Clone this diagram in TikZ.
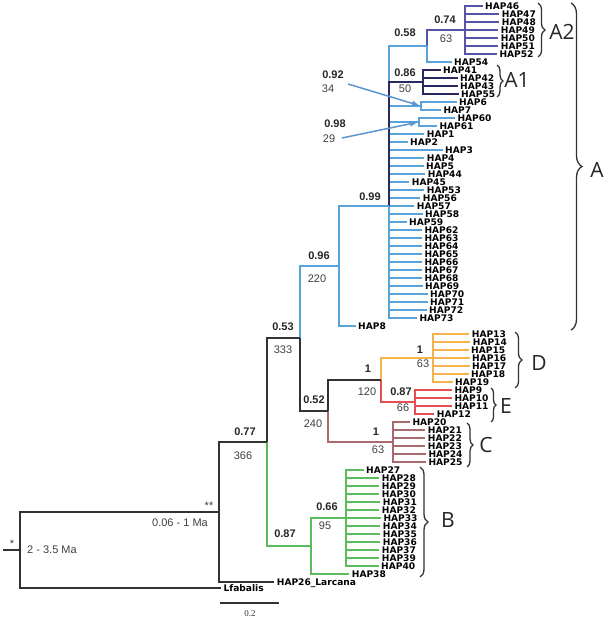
\documentclass[tikz,border=0pt]{standalone}
\usepackage{fontspec}
\setmainfont{Liberation Sans}
\newfontfamily\hapfont{DejaVu Sans}
\newfontfamily\cladefont{Open Sans}
\newfontfamily\barfont{Liberation Serif}
\usetikzlibrary{arrows.meta,decorations.pathreplacing}

\definecolor{cK}{RGB}{50,50,50}
\definecolor{cA}{RGB}{88,164,218}
\definecolor{cAtwo}{RGB}{84,84,168}
\definecolor{cAone}{RGB}{42,42,98}
\definecolor{cD}{RGB}{245,180,75}
\definecolor{cE}{RGB}{228,78,84}
\definecolor{cC}{RGB}{170,106,110}
\definecolor{cB}{RGB}{92,188,92}
\definecolor{cArr}{RGB}{92,150,208}

\tikzset{
  br/.style={line width=2.8pt},
  tip/.style={anchor=west, inner xsep=2.5pt, inner ysep=0pt, xshift=-2.5pt,
    font=\hapfont\bfseries\fontsize{9.1}{9}\selectfont, text height=6.6pt, text depth=0pt},
  pp/.style={font=\bfseries\fontsize{11}{12}\selectfont, text=black!85, inner sep=0pt},
  bs/.style={font=\fontsize{11}{12}\selectfont, text=black!75, inner sep=0pt},
  clade/.style={font=\cladefont\fontsize{21}{21}\selectfont, text=black!85, inner sep=0pt},
  brc/.style={decorate, decoration={brace, amplitude=#1}, line width=1.3pt, draw=black!80},
  arr/.style={->, line width=1.5pt, draw=cArr, shorten >=1pt},
}

\begin{document}
\begin{tikzpicture}[x=1pt,y=-1pt,>={Latex[length=8pt,width=6pt]}]
\useasboundingbox (0,0) rectangle (612,620);

% internal nodes of the tree
\coordinate (stem) at (3,550);
\coordinate (nR) at (20,550);
\coordinate (n2) at (219,512);
\coordinate (n77) at (267,442);
\coordinate (n53) at (300,338);
\coordinate (n96) at (339,266);
\coordinate (n99) at (389,206);
\coordinate (n58) at (427,46);
\coordinate (n74) at (465,30);
\coordinate (n86) at (423,82);
\coordinate (n92) at (421,106);
\coordinate (n98) at (419,122);
\coordinate (n52) at (328,411);
\coordinate (nDE) at (381,380);
\coordinate (nD) at (433,358);
\coordinate (nE) at (415,402);
\coordinate (nC) at (393,442);
\coordinate (n87) at (311,546);
\coordinate (n66) at (346,518);

% clade A
\foreach \n/\x/\y in {1/426.7/134, 2/410/142, 3/445/150, 4/426.7/158, 5/426/166,
    44/427.7/174, 45/411.7/182, 53/426.7/190, 56/422.7/198, 57/416.7/206,
    58/425/214, 59/409/222, 62/424.3/230, 63/424.3/238, 64/424.3/246,
    65/424.3/254, 66/424.3/262, 67/424.3/270, 68/424.3/278, 69/425/286,
    70/430/294, 71/430/302, 72/429/310, 73/419.3/318} {
  \node[tip] (h\n) at (\x,\y) {HAP\n};
  \draw[br,cA] (n99) |- (h\n.west);
}
\foreach \n/\x/\y in {6/459/102, 7/443.3/110} {
  \node[tip] (h\n) at (\x,\y) {HAP\n};
  \draw[br,cA] (n92) |- (h\n.west);
}
\foreach \n/\x/\y in {60/457.3/118, 61/439.3/126} {
  \node[tip] (h\n) at (\x,\y) {HAP\n};
  \draw[br,cA] (n98) |- (h\n.west);
}
\foreach \n/\x/\y in {46/485/6, 47/501.7/14, 48/501.7/22, 49/500.7/30,
    50/500.7/38, 51/500.7/46, 52/499.3/54} {
  \node[tip] (h\n) at (\x,\y) {HAP\n};
  \draw[br,cAtwo] (n74) |- (h\n.west);
}
\foreach \n/\x/\y in {41/443/70, 42/460/78, 43/460/86, 55/461/94} {
  \node[tip] (h\n) at (\x,\y) {HAP\n};
  \draw[br,cAone] (n86) |- (h\n.west);
}
\node[tip] (h54) at (454,62) {HAP54};
\node[tip] (h8) at (358,326) {HAP8};
\draw[br,cAtwo] (n58) |- (n74);
\draw[br,cA] (n58) |- (h54.west);
\draw[br,cA] (n99) |- (n58);
\draw[br,cA] (n99) |- (n92);
\draw[br,cA] (n99) |- (n98);
\draw[br,cAone] (n99) |- (n86);
\draw[br,cA] (n96) |- (n99);
\draw[br,cA] (n96) |- (h8.west);
\draw[br,cA] (n53) |- (n96);

% clades D, E, C
\foreach \n/\x/\y in {13/471.7/334, 14/472.7/342, 15/471/350, 16/472/358,
    17/472/366, 18/471/374, 19/455/382} {
  \node[tip] (h\n) at (\x,\y) {HAP\n};
  \draw[br,cD] (nD) |- (h\n.west);
}
\foreach \n/\x/\y in {9/454.3/390, 10/454.3/398, 11/454.3/406, 12/436.7/414} {
  \node[tip] (h\n) at (\x,\y) {HAP\n};
  \draw[br,cE] (nE) |- (h\n.west);
}
\foreach \n/\x/\y in {20/412.3/422, 21/427.7/430, 22/427.7/438, 23/427.7/446,
    24/428.3/454, 25/428.3/462} {
  \node[tip] (h\n) at (\x,\y) {HAP\n};
  \draw[br,cC] (nC) |- (h\n.west);
}
\draw[br,cD] (nDE) |- (nD);
\draw[br,cE] (nDE) |- (nE);
\draw[br,cK] (n52) |- (nDE);
\draw[br,cC] (n52) |- (nC);
\draw[br,cK] (n53) |- (n52);

% clade B
\foreach \n/\x/\y in {27/366/470, 28/381.7/478, 29/381.7/486, 30/381.7/494,
    31/382.7/502, 32/381.7/510, 33/383.3/518, 34/382.7/526, 35/382.7/534,
    36/382.7/542, 37/381.7/550, 39/381.7/558, 40/381/566} {
  \node[tip] (h\n) at (\x,\y) {HAP\n};
  \draw[br,cB] (n66) |- (h\n.west);
}
\node[tip] (h38) at (351.7,574) {HAP38};
\draw[br,cB] (n87) |- (n66);
\draw[br,cB] (n87) |- (h38.west);

% basal part
\node[tip] (h26) at (276.7,582) {HAP26\_Larcana};
\node[tip] (lfab) at (223.3,588) {Lfabalis};
\draw[br,cK] (n77) |- (n53);
\draw[br,cB] (n77) |- (n87);
\draw[br,cK] (n2) |- (n77);
\draw[br,cK] (n2) |- (h26.west);
\draw[br,cK] (nR) |- (n2);
\draw[br,cK] (nR) |- (lfab.west);
\draw[br,cK] (stem) -- (nR);

% support values
\node[pp] (s58) at (405,33) {0.58};
\node[pp] (s74) at (445,20) {0.74};
\node[bs] (b74) at (446,39) {63};
\node[pp] (s86) at (405,73) {0.86};
\node[bs] (b86) at (405,89) {50};
\node[pp] (s92) at (333,75) {0.92};
\node[bs] (b92) at (328,89) {34};
\node[pp] (s98) at (335,124) {0.98};
\node[bs] (b98) at (329,139) {29};
\node[pp] (s99) at (370,197) {0.99};
\node[pp] (s96) at (319,256) {0.96};
\node[bs] (b96) at (317,279) {220};
\node[pp] (s53) at (283,327) {0.53};
\node[bs] (b53) at (283,350) {333};
\node[pp] (s52) at (314,400) {0.52};
\node[bs] (b52) at (313,424) {240};
\node[pp] (sDE) at (368,369) {1};
\node[bs] (bDE) at (367,392) {120};
\node[pp] (sD) at (420,350) {1};
\node[bs] (bD) at (423,364) {63};
\node[pp] (sE) at (401,392) {0.87};
\node[bs] (bE) at (403,408) {66};
\node[pp] (sC) at (376,432) {1};
\node[bs] (bC) at (378,450) {63};
\node[pp] (s77) at (245,432) {0.77};
\node[bs] (b77) at (243,456) {366};
\node[pp] (s87) at (285,534) {0.87};
\node[pp] (s66) at (327,507) {0.66};
\node[bs] (b66) at (325,526) {95};
\node[bs] (ast2) at (209,506) {**};
\node[bs] (age2) at (180,523) {0.06 - 1 Ma};
\node[bs] (ast1) at (12,544) {*};
\node[bs] (ageR) at (52,550) {2 - 3.5 Ma};

% arrows to the small nodes
\coordinate (a92) at (348,84);
\coordinate (a98) at (342,138);
\draw[arr] (a92) -- (n92);
\draw[arr] (a98) -- (n98);

% clade braces
\draw[brc=7pt] (538,3) -- (538,57);
\node[clade] (lA2) at (562,32) {A2};
\draw[brc=6pt] (497,65) -- (497,97);
\node[clade] (lA1) at (517,80) {A1};
\draw[brc=11pt] (571,3) -- (571,330);
\node[clade] (lA) at (597,170) {A};
\draw[brc=7pt] (515,332) -- (515,388);
\node[clade] (lD) at (539,363) {D};
\draw[brc=5pt] (491,388) -- (491,422);
\node[clade] (lE) at (506,406) {E};
\draw[brc=6pt] (467,423) -- (467,467);
\node[clade] (lC) at (486,445) {C};
\draw[brc=8pt] (420,467) -- (420,577);
\node[clade] (lB) at (448,520) {B};

% scale bar
\coordinate (sb1) at (220,603);
\coordinate (sb2) at (279,603);
\draw[line width=1.5pt, cK] (sb1) -- (sb2);
\node[font=\barfont\fontsize{9}{10}\selectfont, text=black!80] (sbl) at (250,614) {0.2};
\end{tikzpicture}
\end{document}
